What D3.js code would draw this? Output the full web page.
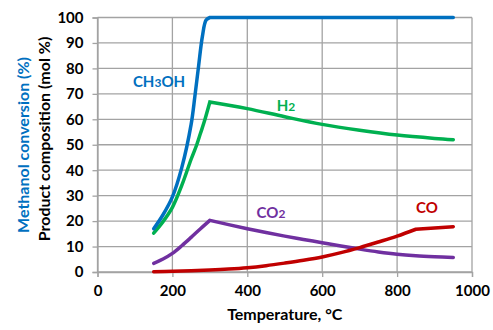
<!DOCTYPE html>
<html><head><meta charset="utf-8">
<script src="https://cdn.jsdelivr.net/npm/d3@7"></script>
<style>body{margin:0;background:#fff}svg{display:block}text{font-family:Lato,"Open Sans",sans-serif;font-weight:bold}</style>
</head><body>
<script>
const xTicks = [0,200,400,600,800,1000];
const yTicks = [0,10,20,30,40,50,60,70,80,90,100];
const ch3ohT = [150,175,200,225,250,260,270,280,290,300,950];
const ch3ohV = [17,22.5,29.5,41,58,69,81,92.5,99,100,100];
const h2T = [150,175,200,225,250,265,275,285,300,400,500,600,700,800,900,950];
const h2V = [15.3,19.8,25.4,34,44.3,50,54.5,59,66.8,64.2,61,58,55.7,53.8,52.5,52];
const co2T = [150,175,200,225,250,275,300,350,400,450,500,550,600,650,700,750,800,850,900,950];
const co2V = [3.4,5.1,7.3,10.3,13.6,17,20.3,18.6,17,15.5,14.1,12.8,11.5,10.2,9,7.9,7,6.4,6,5.7];
const coT = [150,200,250,300,350,400,450,500,550,600,650,700,750,800,850,950];
const coV = [0.1,0.25,0.45,0.75,1.15,1.7,2.5,3.5,4.6,5.9,7.6,9.6,11.8,14.1,16.8,17.8];
const kinkT = [300,300,300,850];
const seriesNames = ["CH3OH","H2","CO2","CO"];
const colors = ["#0070C0","#00B050","#7030A0","#C00000"];

const W=493,H=330;
const svg=d3.select("body").append("svg").attr("width",W).attr("height",H);
const x=d3.scaleLinear().domain([0,1000]).range([97.5,472]);
const y=d3.scaleLinear().domain([0,100]).range([272,17.5]);
const grid="#a3a3a3";
svg.append("g").selectAll("line").data(yTicks).join("line")
  .attr("x1",x(0)).attr("x2",x(1000)).attr("y1",d=>y(d)).attr("y2",d=>y(d))
  .attr("stroke",grid).attr("stroke-width",1.3);
svg.append("g").selectAll("line").data(xTicks).join("line")
  .attr("y1",y(0)).attr("y2",y(100)).attr("x1",d=>x(d)).attr("x2",d=>x(d))
  .attr("stroke",grid).attr("stroke-width",1.3);
const ya=svg.append("g").attr("transform",`translate(${x(0)},0)`)
  .call(d3.axisLeft(y).tickValues(yTicks).tickSize(5).tickPadding(9));
const xa=svg.append("g").attr("transform",`translate(0,${y(0)})`)
  .call(d3.axisBottom(x).tickValues(xTicks).tickFormat(d3.format("d")).tickSize(5).tickPadding(8));
[ya,xa].forEach(a=>{a.selectAll("path,line").attr("stroke",grid).attr("stroke-width",1.3);
  a.selectAll("text").attr("fill","#000").style("font-size","15px").style("font-family","Lato,sans-serif").style("font-weight","bold");});

const series=[[ch3ohT,ch3ohV],[h2T,h2V],[co2T,co2V],[coT,coV]];
const line=d3.line().x(d=>x(d[0])).y(d=>y(d[1])).curve(d3.curveCatmullRom.alpha(0.5));
const order=[2,3,1,0];
order.forEach(i=>{
  const [T,V]=series[i];
  const pts=T.map((t,j)=>[t,V[j]]);
  const a=pts.filter(p=>p[0]<=kinkT[i]), b=pts.filter(p=>p[0]>=kinkT[i]);
  const d=line(a)+line(b).replace(/^M/,"L");
  svg.append("path").attr("d",d)
    .attr("fill","none").attr("stroke",colors[i]).attr("stroke-width",3.5).attr("stroke-linecap","round").attr("stroke-linejoin",i===0?"round":"miter");
});
const lab=[
  {n:0,x:159,y:87,parts:[["CH",0],["3",1],["OH",0]]},
  {n:1,x:286,y:111,parts:[["H",0],["2",1]]},
  {n:2,x:271,y:218,parts:[["CO",0],["2",1]]},
  {n:3,x:427,y:213,parts:[["CO",0]]}
];
lab.forEach(l=>{
  const t=svg.append("text").attr("x",l.x).attr("y",l.y).attr("text-anchor","middle")
    .attr("fill",colors[l.n]).style("font-size","15px");
  l.parts.forEach(p=>t.append("tspan").text(p[0]).style("font-size",p[1]?"12px":"15px"));
});
svg.append("text").attr("x",x(500)).attr("y",320).attr("text-anchor","middle").style("font-size","16px").text("Temperature, °C");
svg.append("text").attr("transform","translate(49.5,139) rotate(-90)").attr("text-anchor","middle").style("font-size","16px").text("Product composition (mol %)");
svg.append("text").attr("transform","translate(29,145) rotate(-90)").attr("text-anchor","middle").attr("fill","#0070C0").style("font-size","16px").text("Methanol conversion (%)");
</script>
</body></html>
